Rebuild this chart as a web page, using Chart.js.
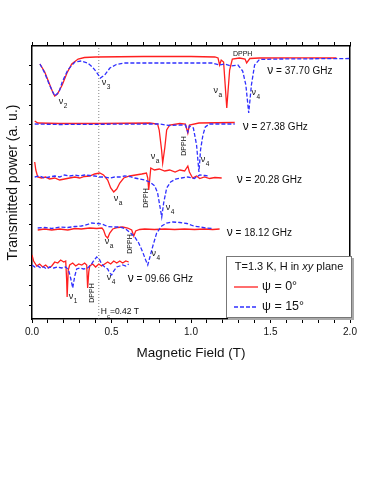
<!DOCTYPE html>
<html><head><meta charset="utf-8">
<script src="https://cdn.jsdelivr.net/npm/chart.js@4.4.1/dist/chart.umd.min.js"></script>
<style>html,body{margin:0;padding:0;background:#fff}</style>
</head><body>
<canvas id="c" width="374" height="484"></canvas>
<script>
// ---------- DATA (x: magnetic field in T, y: transmitted power in a.u., traces offset) ----------
const xTickLabels = ['0.0', '0.5', '1.0', '1.5', '2.0'];
const frequencies = ['37.70', '27.38', '20.28', '18.12', '09.66'];
const psiLabels = ['ψ = 0°', 'ψ = 15°'];
const Hc = 0.42;

// 37.70 GHz
const f3770_psi0 = [[0.05,26.1],[0.08,25.3],[0.11,24.1],[0.13,23.3],[0.143,22.9],[0.16,23.1],[0.19,24.0],[0.22,25.2],[0.25,26.1],[0.29,26.6],[0.33,26.75],[0.40,26.8],[0.7,26.85],[1.0,26.85],[1.15,26.8],[1.17,26.7],[1.18,26.0],[1.19,26.5],[1.205,26.3],[1.225,21.7],[1.243,25.5],[1.26,26.6],[1.305,26.7],[1.34,26.6],[1.35,26.2],[1.37,26.65],[1.43,26.7],[1.7,26.72],[1.915,26.7]];
const f3770_psi15 = [[0.05,26.1],[0.08,25.2],[0.11,24.0],[0.143,22.9],[0.17,23.3],[0.19,24.3],[0.225,25.5],[0.27,26.3],[0.31,26.4],[0.35,26.2],[0.38,25.8],[0.405,25.3],[0.43,24.7],[0.457,25.0],[0.49,25.7],[0.53,26.05],[0.58,26.2],[0.74,26.2],[1.135,26.2],[1.18,26.0],[1.21,26.1],[1.255,25.9],[1.295,26.0],[1.325,25.4],[1.345,24.0],[1.363,21.2],[1.38,24.0],[1.40,26.0],[1.43,26.55],[1.56,26.6],[2.0,26.65]];
// 27.38 GHz
const f2738_psi0 = [[0.017,20.4],[0.036,20.2],[0.17,20.15],[0.43,20.15],[0.74,20.2],[0.79,20.1],[0.80,19.5],[0.815,17.5],[0.822,16.2],[0.835,17.7],[0.847,19.5],[0.866,20.0],[0.93,20.15],[0.965,20.1],[0.98,19.2],[0.99,20.0],[1.05,20.2],[1.275,20.25]];
const f2738_psi15 = [[0.017,20.1],[0.17,20.05],[0.74,20.1],[0.80,20.1],[0.866,19.95],[0.93,20.0],[0.965,20.0],[0.98,19.3],[0.99,19.9],[1.015,19.7],[1.035,18.0],[1.05,15.3],[1.06,17.5],[1.075,19.0],[1.09,19.8],[1.115,20.1],[1.275,20.1]];
// 20.28 GHz
const f2028_psi0 = [[0.017,16.3],[0.024,15.5],[0.036,14.8],[0.06,14.7],[0.086,14.8],[0.11,14.6],[0.143,14.7],[0.174,14.5],[0.205,14.6],[0.237,14.7],[0.27,14.8],[0.30,14.7],[0.33,14.85],[0.363,14.9],[0.394,15.1],[0.426,15.2],[0.45,15.0],[0.476,14.5],[0.495,13.7],[0.514,13.3],[0.533,13.6],[0.552,14.2],[0.577,14.7],[0.614,14.9],[0.652,15.0],[0.69,15.1],[0.72,15.2],[0.728,14.7],[0.734,13.5],[0.74,14.5],[0.747,15.7],[0.77,15.5],[0.80,15.6],[0.835,15.4],[0.866,15.5],[0.90,15.3],[0.93,15.5],[0.96,15.4],[0.98,15.9],[0.99,15.3],[1.01,14.7],[1.035,14.9],[1.055,14.65],[1.085,14.8],[1.117,14.65],[1.15,14.75],[1.193,14.7]];
const f2028_psi15 = [[0.017,14.8],[0.048,14.9],[0.08,14.7],[0.11,14.8],[0.143,14.9],[0.174,14.8],[0.205,15.0],[0.237,14.9],[0.27,15.0],[0.30,14.9],[0.33,15.0],[0.363,14.95],[0.394,14.9],[0.426,14.8],[0.457,14.8],[0.489,14.7],[0.52,14.8],[0.552,14.8],[0.583,14.9],[0.614,14.85],[0.646,14.7],[0.677,14.6],[0.709,14.5],[0.74,14.3],[0.772,13.9],[0.79,13.2],[0.803,12.0],[0.816,10.8],[0.828,12.2],[0.847,13.7],[0.872,14.3],[0.904,14.6],[0.94,14.7],[0.98,14.8],[1.02,14.65],[1.055,15.0],[1.087,14.95],[1.117,14.9]];
// 18.12 GHz
const f1812_psi0 = [[0.036,9.5],[0.08,9.6],[0.124,9.5],[0.174,9.6],[0.225,9.5],[0.27,9.65],[0.31,9.6],[0.363,9.7],[0.407,9.65],[0.44,9.7],[0.45,9.5],[0.463,8.9],[0.476,8.7],[0.489,9.2],[0.508,9.6],[0.54,9.75],[0.57,9.8],[0.602,9.7],[0.627,9.5],[0.64,8.9],[0.652,9.4],[0.677,9.55],[0.709,9.6],[0.77,9.55],[0.835,9.6],[0.897,9.55],[0.96,9.6],[1.022,9.55],[1.085,9.6],[1.137,9.55],[1.18,9.6]];
const f1812_psi15 = [[0.036,9.7],[0.08,9.75],[0.124,9.65],[0.174,9.8],[0.225,9.75],[0.27,9.85],[0.31,9.9],[0.35,10.05],[0.375,10.2],[0.407,10.15],[0.44,10.1],[0.476,9.85],[0.508,9.8],[0.552,9.8],[0.59,9.6],[0.62,9.2],[0.646,8.8],[0.671,8.2],[0.696,7.3],[0.715,6.5],[0.728,6.0],[0.74,6.7],[0.76,7.9],[0.784,9.2],[0.816,9.9],[0.847,10.2],[0.885,10.3],[0.93,10.25],[0.973,10.15],[1.017,9.9],[1.055,9.8],[1.098,9.7],[1.137,9.65]];
// 09.66 GHz
const f0966_psi0 = [[0.0,7.0],[0.01,6.4],[0.03,5.9],[0.048,6.1],[0.067,5.8],[0.086,6.0],[0.105,5.7],[0.124,5.9],[0.143,6.3],[0.162,6.2],[0.18,6.5],[0.2,6.3],[0.212,6.4],[0.218,4.5],[0.221,2.8],[0.228,5.5],[0.237,6.0],[0.256,6.2],[0.275,5.9],[0.294,6.1],[0.313,6.0],[0.331,6.2],[0.344,6.0],[0.35,3.7],[0.357,5.3],[0.363,5.9],[0.382,6.1],[0.4,5.8],[0.42,6.1],[0.438,5.9],[0.457,6.1],[0.476,6.3],[0.495,6.1],[0.514,6.4],[0.533,6.2],[0.552,6.4],[0.57,6.2],[0.59,6.4],[0.608,6.3]];
const f0966_psi15 = [[0.0,6.0],[0.017,5.8],[0.036,5.9],[0.055,5.7],[0.074,5.8],[0.092,5.6],[0.11,5.8],[0.137,5.7],[0.162,5.8],[0.187,5.7],[0.212,5.8],[0.23,5.5],[0.243,4.7],[0.256,3.7],[0.269,4.9],[0.281,5.6],[0.30,5.7],[0.325,5.6],[0.35,5.7],[0.37,6.0],[0.387,6.4],[0.407,6.8],[0.426,6.5],[0.438,6.1],[0.457,5.8],[0.476,5.6],[0.489,5.2],[0.501,5.0],[0.514,5.4],[0.533,5.8],[0.552,5.9],[0.57,6.0],[0.59,5.9],[0.608,6.1]];

// ---------- ANNOTATIONS (placed in data coordinates) ----------
const peakLabels = [
  {t:'ν', s:'2', x:0.187, y:22.3}, {t:'ν', s:'3', x:0.457, y:24.2},
  {t:'ν', s:'a', x:1.16, y:23.4},  {t:'ν', s:'4', x:1.40, y:23.2},
  {t:'ν', s:'a', x:0.765, y:16.8}, {t:'ν', s:'4', x:1.08, y:16.5},
  {t:'ν', s:'a', x:0.533, y:12.6}, {t:'ν', s:'4', x:0.86, y:11.7},
  {t:'ν', s:'a', x:0.476, y:8.3},  {t:'ν', s:'4', x:0.77, y:7.1},
  {t:'ν', s:'1', x:0.25, y:2.8},   {t:'ν', s:'4', x:0.489, y:4.7}
];
const dpphLabels = [
  {x:1.325, y:27.1, rot:false}, {x:0.955, y:17.9, rot:true},
  {x:0.72, y:12.7, rot:true}, {x:0.615, y:8.1, rot:true}, {x:0.38, y:3.2, rot:true}
];
const freqLabelPos = [[1.48,25.4],[1.325,19.8],[1.288,14.5],[1.225,9.2],[0.602,4.6]];

const FONT = '"Liberation Sans", Arial, sans-serif';
const RED = '#ff1f1f', BLUE = '#3030ff';

function series(d, color, dash) {
  return {data: d.map(p => ({x:p[0], y:p[1]})), borderColor: color, borderWidth: 1.3,
    borderDash: dash || [], pointRadius: 0, fill: false, tension: 0};
}
const blueDash = [4, 2];
const datasets = [
  series(f3770_psi15, BLUE, blueDash), series(f2738_psi15, BLUE, blueDash), series(f2028_psi15, BLUE, blueDash),
  series(f1812_psi15, BLUE, blueDash), series(f0966_psi15, BLUE, blueDash),
  series(f3770_psi0, RED), series(f2738_psi0, RED), series(f2028_psi0, RED), series(f1812_psi0, RED), series(f0966_psi0, RED),
  {data:[{x:Hc,y:0.6},{x:Hc,y:27.9}], borderColor:'#666', borderWidth:0.8, borderDash:[1,2], pointRadius:0, fill:false}
];

const annot = {
  id: 'annot',
  afterDatasetsDraw(chart) {
    const ctx = chart.ctx, xs = chart.scales.x, ys = chart.scales.y, ca = chart.chartArea;
    ctx.save();
    ctx.fillStyle = '#111';
    ctx.textBaseline = 'middle';
    // peak labels
    peakLabels.forEach(l => {
      const px = xs.getPixelForValue(l.x), py = ys.getPixelForValue(l.y);
      ctx.font = '9px ' + FONT; ctx.textAlign = 'left';
      ctx.fillText(l.t, px - 3, py);
      const w = ctx.measureText(l.t).width;
      ctx.font = '6.5px ' + FONT;
      ctx.fillText(l.s, px - 3 + w + 0.5, py + 4);
    });
    // DPPH labels
    dpphLabels.forEach(l => {
      const px = xs.getPixelForValue(l.x), py = ys.getPixelForValue(l.y);
      ctx.font = '7px ' + FONT; ctx.textAlign = 'center';
      if (l.rot) { ctx.save(); ctx.translate(px, py); ctx.rotate(-Math.PI/2); ctx.fillText('DPPH', 0, 0); ctx.restore(); }
      else ctx.fillText('DPPH', px, py);
    });
    // frequency labels
    frequencies.forEach((f, i) => {
      const px = xs.getPixelForValue(freqLabelPos[i][0]), py = ys.getPixelForValue(freqLabelPos[i][1]);
      ctx.textAlign = 'left';
      ctx.font = '12px ' + FONT; ctx.fillText('ν', px, py);
      const w = ctx.measureText('ν').width;
      ctx.font = '10px ' + FONT; ctx.fillText(' = ' + f + ' GHz', px + w, py);
    });
    // Hc label
    {
      const px = xs.getPixelForValue(Hc) + 2, py = ys.getPixelForValue(1.3);
      ctx.textAlign = 'left';
      ctx.font = '8.5px ' + FONT; ctx.fillText('H', px, py);
      let w = ctx.measureText('H').width;
      ctx.font = '6px ' + FONT; ctx.fillText('c', px + w, py + 4);
      w += ctx.measureText('c').width;
      ctx.font = '8.5px ' + FONT; ctx.fillText('=' + Hc.toFixed(2) + ' T', px + w, py);
    }
    // legend box
    const L = ca.left + 194, T = ca.top + 210, R = ca.right + 2, B = ca.bottom - 1;
    ctx.fillStyle = '#aaa'; ctx.fillRect(L + 2, T + 2, R - L, B - T);
    ctx.fillStyle = '#fff'; ctx.fillRect(L, T, R - L, B - T);
    ctx.strokeStyle = '#777'; ctx.lineWidth = 1; ctx.strokeRect(L + 0.5, T + 0.5, R - L - 1, B - T - 1);
    ctx.fillStyle = '#111'; ctx.textAlign = 'left';
    // title with italic xy
    const parts = [['T=1.3 K, H in ', ''], ['xy', 'italic '], [' plane', '']];
    ctx.font = '11px ' + FONT;
    let tw = 0; parts.forEach(p => { ctx.font = p[1] + '11px ' + FONT; tw += ctx.measureText(p[0]).width; });
    let tx = (L + R) / 2 - tw / 2;
    parts.forEach(p => { ctx.font = p[1] + '11px ' + FONT; ctx.fillText(p[0], tx, T + 11); tx += ctx.measureText(p[0]).width; });
    [[RED, []], [BLUE, [4, 2]]].forEach((c, i) => {
      const y = T + 31 + i * 20;
      ctx.strokeStyle = c[0]; ctx.lineWidth = 1.3; ctx.setLineDash(c[1]);
      ctx.beginPath(); ctx.moveTo(L + 8, y); ctx.lineTo(L + 32, y); ctx.stroke();
      ctx.setLineDash([]);
      ctx.font = '12.5px ' + FONT; ctx.fillText(psiLabels[i], L + 36, y);
    });
    ctx.restore();
  }
};

new Chart(document.getElementById('c'), {
  type: 'line',
  data: {datasets},
  plugins: [annot],
  options: {
    responsive: false, animation: false, devicePixelRatio: 1,
    layout: {padding: {left: 0, right: 0, top: 0, bottom: 0}},
    plugins: {legend: {display: false}, tooltip: {enabled: false}},
    scales: {
      x: {type: 'linear', position: 'bottom', min: 0, max: 2,
        afterFit(s) { s.height = 165; },
        ticks: {stepSize: 0.1, autoSkip: false, maxRotation: 0, padding: 3, color: '#111', font: {size: 10, family: FONT},
          callback(v) { const k = Math.round(v * 10); return k % 5 === 0 ? xTickLabels[k / 5] : ''; }},
        grid: {drawOnChartArea: false, tickLength: 4, color: '#000', lineWidth: 1},
        border: {color: '#000', width: 1.5},
        title: {display: true, text: 'Magnetic Field (T)', color: '#111', font: {size: 13.5, family: FONT}, padding: {top: 0, bottom: 123}}
      },
      xTop: {type: 'linear', position: 'top', min: 0, max: 2,
        afterFit(s) { s.height = 46; },
        ticks: {display: false, stepSize: 0.1, autoSkip: false},
        grid: {drawOnChartArea: false, tickLength: 4, color: '#000', lineWidth: 1},
        border: {color: '#000', width: 1.5}
      },
      y: {type: 'linear', position: 'left', min: 0.6, max: 27.9,
        afterFit(s) { s.width = 32; },
        ticks: {display: false, stepSize: 2, includeBounds: false},
        grid: {drawOnChartArea: false, tickLength: 3, color: '#000', lineWidth: 1},
        border: {color: '#000', width: 1.5},
        title: {display: true, text: 'Transmitted power (a. u.)', color: '#111', font: {size: 14, family: FONT}, padding: {top: 5, bottom: 0}}
      },
      yRight: {type: 'linear', position: 'right', min: 0.6, max: 27.9,
        afterFit(s) { s.width = 24; },
        ticks: {display: false},
        grid: {display: false},
        border: {color: '#000', width: 1.5}
      }
    }
  }
});
</script>
</body></html>
